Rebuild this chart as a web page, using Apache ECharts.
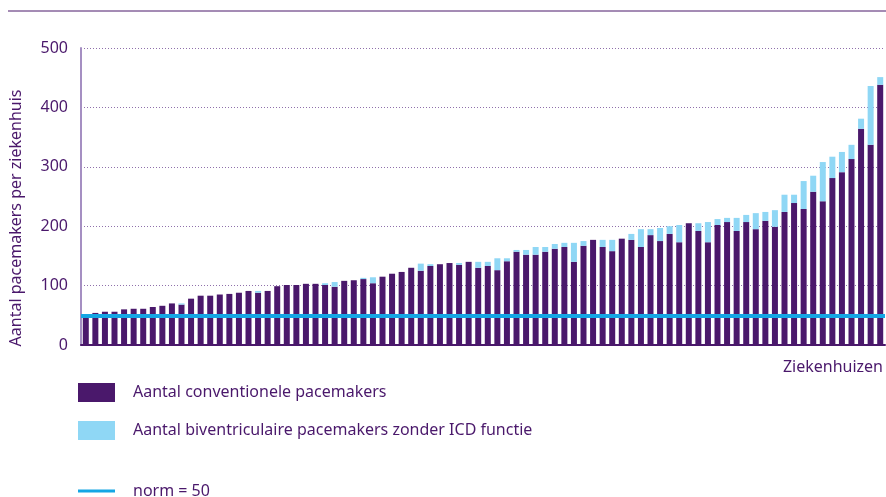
<!DOCTYPE html>
<html>
<head>
<meta charset="utf-8">
<script src="https://cdn.jsdelivr.net/npm/echarts@6/dist/echarts.min.js"></script>
<style>
  html, body { margin: 0; padding: 0; background: #fff; }
  #chart { width: 886px; height: 497px; }
</style>
</head>
<body>
<div id="chart"></div>
<script>
// aantal conventionele pacemakers per ziekenhuis (gesorteerd op totaal)
var conventioneel = [
    50, 54, 56, 56, 60, 61, 61, 64, 66, 70,
    68, 78, 83, 83, 85, 86, 88, 91, 88, 91,
    99, 101, 101, 103, 103, 101, 98, 108, 109, 111,
    104, 115, 120, 123, 130, 125, 133, 136, 138, 135,
    140, 130, 133, 126, 141, 157, 152, 152, 157, 162,
    165, 140, 167, 177, 165, 158, 179, 177, 165, 185,
    175, 187, 173, 205, 192, 173, 202, 207, 192, 207,
    195, 209, 199, 224, 239, 229, 258, 242, 281, 291,
    313, 364, 337, 438
];
// aantal biventriculaire pacemakers zonder ICD functie
var biventriculair = [
    0, 0, 0, 0, 0, 0, 0, 0, 0, 0,
    2, 0, 0, 0, 0, 0, 0, 0, 3, 0,
    0, 0, 0, 0, 0, 3, 8, 0, 0, 2,
    10, 0, 0, 0, 0, 12, 3, 0, 0, 3,
    0, 10, 7, 20, 5, 3, 8, 13, 8, 8,
    7, 32, 8, 0, 12, 19, 0, 10, 30, 10,
    22, 13, 29, 0, 13, 34, 10, 7, 22, 12,
    27, 15, 28, 29, 14, 47, 27, 66, 36, 34,
    24, 17, 99, 13
];
var norm = 50;
var ziekenhuizen = conventioneel.map(function (v, i) { return 'Ziekenhuis ' + (i + 1); });

var paars = '#4a186b';
var lichtblauw = '#8fd7f5';
var blauw = '#14a6e4';
var font = 'Noto Sans';

var chart = echarts.init(document.getElementById('chart'));
var option = {
    animation: false,
    textStyle: { fontFamily: font },
    grid: { left: 81, right: 0, top: 48, bottom: 152 },
    graphic: [
        {
            type: 'line',
            shape: { x1: 8, y1: 11, x2: 886, y2: 11 },
            style: { stroke: paars, lineWidth: 1 }
        },
        {
            type: 'text',
            x: 16, y: 218,
            rotation: Math.PI / 2,
            style: {
                text: 'Aantal pacemakers per ziekenhuis',
                fill: paars, font: '16px "Noto Sans"',
                align: 'center', verticalAlign: 'middle'
            }
        }
    ],
    legend: [
        {
            data: ['Aantal conventionele pacemakers'],
            left: 78, top: 383, padding: 0,
            icon: 'rect', itemWidth: 37, itemHeight: 19,
            textStyle: { color: paars, fontSize: 16, fontFamily: font, padding: [0, 0, 0, 13] }
        },
        {
            data: ['Aantal biventriculaire pacemakers zonder ICD functie'],
            left: 78, top: 421, padding: 0,
            icon: 'rect', itemWidth: 37, itemHeight: 19,
            textStyle: { color: paars, fontSize: 16, fontFamily: font, padding: [0, 0, 0, 13] }
        },
        {
            data: [{ name: 'norm = 50', icon: 'rect' }],
            left: 78, top: 483, padding: 0,
            itemWidth: 37, itemHeight: 3,
            textStyle: { color: paars, fontSize: 16, fontFamily: font, padding: [0, 0, 0, 13] }
        }
    ],
    xAxis: {
        type: 'category',
        data: ziekenhuizen,
        name: 'Ziekenhuizen',
        nameLocation: 'end',
        nameGap: -2,
        nameTextStyle: {
            color: paars, fontSize: 16, fontFamily: font,
            align: 'right', verticalAlign: 'top', padding: [14, 0, 0, 0]
        },
        axisLine: { lineStyle: { color: paars, width: 2 } },
        axisTick: { show: false },
        axisLabel: { show: false },
        splitLine: { show: false }
    },
    yAxis: {
        type: 'value',
        min: 0, max: 500, interval: 100,
        axisLine: { show: true, lineStyle: { color: '#a58fc2', width: 2 } },
        axisTick: { show: false },
        axisLabel: { color: paars, fontSize: 16, fontFamily: font, margin: 13 },
        splitLine: { lineStyle: { color: '#8f70ab', type: [1, 2], width: 1 } }
    },
    series: [
        {
            name: 'Aantal conventionele pacemakers',
            type: 'bar',
            stack: 'totaal',
            barWidth: 6,
            itemStyle: { color: paars },
            data: conventioneel
        },
        {
            name: 'Aantal biventriculaire pacemakers zonder ICD functie',
            type: 'bar',
            stack: 'totaal',
            barWidth: 6,
            itemStyle: { color: lichtblauw },
            data: biventriculair
        },
        {
            name: 'norm = 50',
            type: 'line',
            data: [],
            color: blauw,
            itemStyle: { color: blauw },
            lineStyle: { color: blauw },
            markLine: {
                silent: true,
                symbol: 'none',
                label: { show: false },
                lineStyle: { color: blauw, width: 4, type: 'solid' },
                data: [{ yAxis: norm }]
            },
            z: 5
        }
    ]
};
chart.setOption(option);
</script>
</body>
</html>
